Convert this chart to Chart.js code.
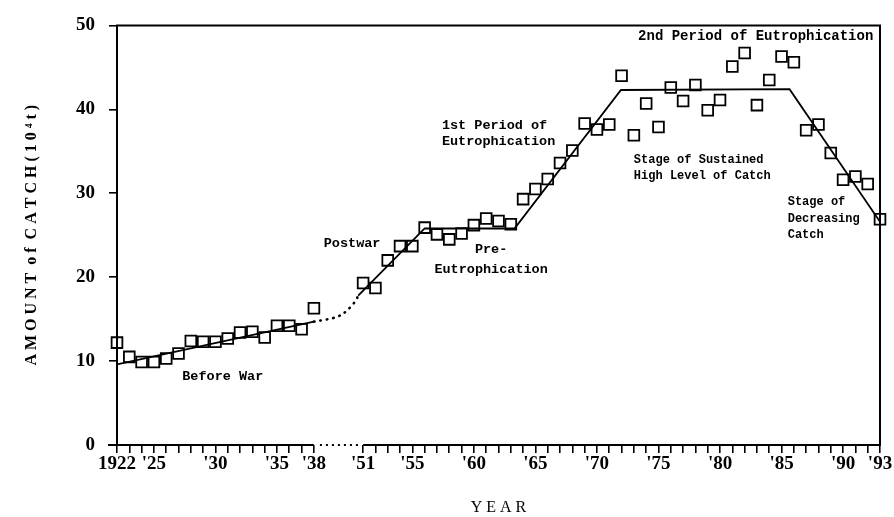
<!DOCTYPE html>
<html>
<head>
<meta charset="utf-8">
<title>Amount of catch by year</title>
<script src="https://cdn.jsdelivr.net/npm/chart.js@4/dist/chart.umd.min.js"></script>
<style>
  html, body { margin: 0; padding: 0; background: #ffffff; }
  #wrap { width: 894px; height: 517px; position: relative; }
</style>
</head>
<body>
<div id="wrap"><canvas id="chart"></canvas></div>
<script>
// Annual catch, in 10^4 t
const prewarYears = [1922, 1923, 1924, 1925, 1926, 1927, 1928, 1929, 1930, 1931,
                     1932, 1933, 1934, 1935, 1936, 1937, 1938];
const prewarCatch = [12.2, 10.5, 9.9, 9.9, 10.3, 10.9, 12.4, 12.3, 12.3, 12.7,
                     13.4, 13.5, 12.8, 14.2, 14.2, 13.8, 16.3];

const postwarYears = [1951, 1952, 1953, 1954, 1955, 1956, 1957, 1958, 1959, 1960,
                      1961, 1962, 1963, 1964, 1965, 1966, 1967, 1968, 1969, 1970,
                      1971, 1972, 1973, 1974, 1975, 1976, 1977, 1978, 1979, 1980,
                      1981, 1982, 1983, 1984, 1985, 1986, 1987, 1988, 1989, 1990,
                      1991, 1992, 1993];
const postwarCatch = [19.3, 18.7, 22.0, 23.7, 23.7, 25.9, 25.1, 24.5, 25.2, 26.2,
                      27.0, 26.7, 26.3, 29.3, 30.5, 31.7, 33.6, 35.1, 38.3, 37.6,
                      38.2, 44.0, 36.9, 40.7, 37.9, 42.6, 41.0, 42.9, 39.9, 41.1,
                      45.1, 46.7, 40.5, 43.5, 46.3, 45.6, 37.5, 38.2, 34.8, 31.6,
                      32.0, 31.1, 26.9];

// Fitted stage lines: [year, catch]
const trendBeforeWar = [[1922, 9.6], [1938, 14.7]];
const trendPostwar = [[1950.6, 17.8], [1956, 25.8], [1963.3, 25.8],
                      [1971.95, 42.3], [1985.65, 42.4], [1993, 26.6]];
// Dotted bridge across the war years, given as positions on the broken axis
const bridgePos = [16, 17, 17.5, 18, 18.6, 19, 19.4, 19.6];
const bridgeCatch = [14.7, 14.95, 15.1, 15.35, 15.9, 16.5, 17.2, 17.8];

// Years carrying a tick label
const labelYears = [1922, 1925, 1930, 1935, 1938, 1951, 1955, 1960, 1965,
                    1970, 1975, 1980, 1985, 1990, 1993];

// Broken time axis: 1939-1950 is squeezed into a short dotted gap
const GAP_START = 1938, GAP_END = 1951, GAP_SLOTS = 4;
function pos(year) {
  return year <= GAP_START ? year - 1922 : year - GAP_END + (GAP_START - 1922) + GAP_SLOTS;
}
const gapFrom = pos(GAP_START), gapTo = pos(GAP_END);
const axisMax = pos(1993);

const labelAt = {};
labelYears.forEach(y => { labelAt[pos(y)] = y === 1922 ? '1922' : "'" + String(y).slice(2); });

const catchPoints = prewarYears.map((y, i) => ({ x: pos(y), y: prewarCatch[i] }))
  .concat(postwarYears.map((y, i) => ({ x: pos(y), y: postwarCatch[i] })));

// Stage annotations, anchored in axis units
const notes = [
  { lines: ['Before War'], x: 5.3, y: 8.1, align: 'left', size: 13.5 },
  { lines: ['Postwar'], x: 16.8, y: 24.0, align: 'left', size: 13.5 },
  { lines: ['Pre-', 'Eutrophication'], x: 30.4, y: 23.3, align: 'center', size: 13.5, gap: 2.35 },
  { lines: ['1st Period of', 'Eutrophication'], x: 26.4, y: 38.1, align: 'left', size: 13.5, gap: 2.0 },
  { lines: ['2nd Period of Eutrophication'], x: 51.9, y: 48.7, align: 'center', size: 14 },
  { lines: ['Stage of Sustained', 'High Level of Catch'], x: 42.0, y: 34.0, align: 'left', size: 12, gap: 1.95 },
  { lines: ['Stage of', 'Decreasing', 'Catch'], x: 54.5, y: 28.9, align: 'left', size: 12, gap: 1.95 }
];

const INK = '#000000';
const SERIF = "'Liberation Serif', 'DejaVu Serif', serif";
const TICK_FONT = { family: SERIF, size: 19, weight: 'bold' };

// Plot frame, including the dotted stretch of the time axis across the gap
const framePlugin = {
  id: 'frame',
  afterDatasetsDraw(chart) {
    const { ctx, scales: { x, y } } = chart;
    const x0 = x.getPixelForValue(0), x1 = x.getPixelForValue(axisMax);
    const y0 = y.getPixelForValue(0), y1 = y.getPixelForValue(50);
    const gx0 = x.getPixelForValue(gapFrom), gx1 = x.getPixelForValue(gapTo);
    ctx.save();
    ctx.strokeStyle = INK;
    ctx.lineWidth = 2;
    ctx.beginPath();
    ctx.moveTo(x0, y0); ctx.lineTo(x0, y1); ctx.lineTo(x1, y1); ctx.lineTo(x1, y0);
    ctx.lineTo(gx1, y0);
    ctx.moveTo(gx0, y0); ctx.lineTo(x0 - 9, y0);
    ctx.stroke();
    ctx.setLineDash([2, 4]);
    ctx.lineWidth = 2.2;
    ctx.beginPath();
    ctx.moveTo(gx0 + 6, y0); ctx.lineTo(gx1 - 4, y0);
    ctx.stroke();
    ctx.restore();
  }
};

const notesPlugin = {
  id: 'notes',
  afterDatasetsDraw(chart) {
    const { ctx, scales: { x, y } } = chart;
    ctx.save();
    ctx.fillStyle = INK;
    ctx.textBaseline = 'middle';
    notes.forEach(n => {
      ctx.font = `bold ${n.size}px 'Liberation Mono', 'DejaVu Sans Mono', monospace`;
      ctx.textAlign = n.align;
      n.lines.forEach((t, i) => {
        ctx.fillText(t, x.getPixelForValue(n.x), y.getPixelForValue(n.y - i * (n.gap || 2)));
      });
    });
    ctx.restore();
  }
};

new Chart(document.getElementById('chart'), {
  type: 'scatter',
  data: {
    datasets: [
      {
        label: 'Catch',
        data: catchPoints,
        showLine: false,
        clip: false,
        pointStyle: 'rect',
        pointRadius: 7.6,
        pointBorderWidth: 1.8,
        pointBackgroundColor: 'rgba(255,255,255,0)',
        pointBorderColor: INK,
        order: 3
      },
      {
        label: 'Before War',
        data: trendBeforeWar.map(([yr, v]) => ({ x: pos(yr), y: v })),
        showLine: true,
        borderColor: INK,
        borderWidth: 1.8,
        pointRadius: 0,
        order: 1
      },
      {
        label: 'Postwar stages',
        data: trendPostwar.map(([yr, v]) => ({ x: pos(yr), y: v })),
        showLine: true,
        borderColor: INK,
        borderWidth: 1.8,
        pointRadius: 0,
        order: 1
      },
      {
        label: 'War years',
        data: bridgePos.map((p, i) => ({ x: p, y: bridgeCatch[i] })),
        showLine: true,
        borderColor: INK,
        borderWidth: 2.6,
        borderDash: [0.5, 6],
        borderCapStyle: 'round',
        tension: 0.4,
        pointRadius: 0,
        order: 1
      }
    ]
  },
  options: {
    responsive: true,
    maintainAspectRatio: false,
    animation: false,
    events: [],
    layout: { padding: { left: 0, right: 14, top: 20, bottom: 0 } },
    plugins: { legend: { display: false }, tooltip: { enabled: false } },
    scales: {
      x: {
        type: 'linear',
        min: 0,
        max: axisMax,
        afterFit: s => { s.height = 72; },
        border: { display: false },
        grid: {
          drawOnChartArea: false,
          tickLength: 8,
          lineWidth: 1.6,
          color: c => (c.tick && c.tick.value > gapFrom && c.tick.value < gapTo) ? 'rgba(0,0,0,0)' : INK
        },
        ticks: {
          stepSize: 1,
          autoSkip: false,
          maxTicksLimit: 200,
          maxRotation: 0,
          padding: 0,
          color: INK,
          font: TICK_FONT,
          callback: v => labelAt[v] || ''
        },
        title: {
          display: true,
          text: 'Y E A R',
          color: INK,
          font: { family: SERIF, size: 16 },
          padding: { top: 0, bottom: 0 }
        }
      },
      y: {
        min: 0,
        max: 50,
        afterFit: s => { s.width = 117; },
        border: { display: false },
        grid: { drawOnChartArea: false, tickLength: 8, lineWidth: 1.6, color: INK },
        ticks: { stepSize: 10, padding: 14, color: INK, font: TICK_FONT },
        title: {
          display: true,
          text: 'A M O U N T  o f  C A T C H ( 1 0 ⁴ t )',
          color: INK,
          font: { family: SERIF, size: 16, weight: 'bold' },
          padding: { top: 22, bottom: 0 }
        }
      }
    }
  },
  plugins: [framePlugin, notesPlugin]
});
</script>
</body>
</html>
